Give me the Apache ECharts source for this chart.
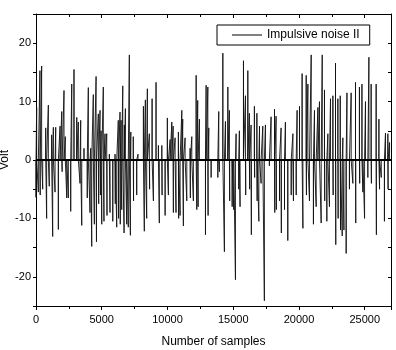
<!DOCTYPE html>
<html>
<head>
<meta charset="utf-8">
<script src="https://cdn.jsdelivr.net/npm/echarts@6/dist/echarts.min.js"></script>
<style>
  html, body { margin: 0; padding: 0; background: #fff; }
  #main { width: 396px; height: 350px; }
</style>
</head>
<body>
<div id="main"></div>
<script>
  // positive spikes: sample index / amplitude (Volt)
  var posX = [50, 300, 430, 740, 940, 1190, 1320, 1500, 1830, 1960, 2130, 2230, 2720, 2890, 3100, 3220, 3400, 3650, 3980, 4160,
    4360, 4570, 4740, 4870, 4950, 5120, 5250, 5380, 5580, 6010, 6260, 6390, 6470, 6600, 6720, 6800, 7100, 7210, 7400, 7760,
    8170, 8320, 8470, 8620, 8830, 9130, 9310, 9570, 9990, 10200, 10330, 10430, 10580, 10830, 11090, 11160, 11340, 11720, 11850, 12180,
    12300, 12430, 12940, 13070, 13140, 13900, 14210, 14410, 14590, 14710, 15220, 15470, 15780, 15930, 16110, 16230, 16360, 16610, 16800, 17000,
    17250, 17450, 17880, 18140, 18260, 18640, 18970, 19540, 19860, 20040, 20240, 20550, 20680, 20930, 21180, 21440, 21560, 21770, 21940, 22200,
    22400, 22580, 22780, 22960, 23140, 23340, 23650, 23970, 24300, 24600, 24790, 25060, 25320, 25490, 25870, 26080, 26580, 26760, 26890];
  var posY = [9.0, 15.3, 16.1, 5.5, 9.4, 4.3, 5.6, 5.6, 5.8, 8.3, 11.9, 4.0, 13.0, 15.5, 7.3, 6.5, 6.8, 2.0, 12.4, 2.0,
    11.2, 14.3, 7.9, 8.5, 5.0, 12.5, 4.5, 4.5, 1.0, 1.0, 6.8, 8.2, 6.8, 12.7, 6.0, 8.8, 18.0, 4.8, 4.0, 1.0,
    9.2, 10.3, 12.2, 4.5, 10.5, 13.3, 2.5, 2.5, 7.2, 3.5, 6.5, 5.8, 3.8, 4.8, 8.5, 7.0, 3.8, 2.0, 4.0, 14.5,
    10.2, 7.0, 12.8, 12.5, 5.5, 8.3, 18.3, 6.6, 12.5, 8.5, 4.5, 5.0, 17.0, 11.0, 15.3, 8.0, 6.0, 9.2, 8.0, 5.8,
    5.8, 6.0, 7.4, 8.7, 7.5, 5.5, 6.5, 4.5, 8.5, 9.2, 14.8, 14.5, 13.0, 18.0, 8.5, 9.0, 10.0, 18.0, 12.0, 4.5,
    10.5, 11.0, 16.6, 10.5, 11.0, 3.8, 11.5, 11.5, 13.3, 12.5, 13.0, 10.0, 17.6, 13.0, 13.0, 7.0, 4.6, 4.5, 3.0];

  // negative spikes
  var negX = [0, 180, 320, 510, 810, 1010, 1270, 1450, 1700, 1990, 2340, 2460, 2640, 3350, 3480, 3900, 4110, 4240, 4440, 4600,
    4770, 4900, 5000, 5170, 5400, 5630, 5840, 6030, 6140, 6280, 6410, 6520, 6700, 6900, 7020, 7180, 7420, 7660, 8240, 8420,
    8640, 8930, 9380, 9590, 9820, 10070, 10450, 10650, 10850, 10960, 11210, 11470, 11740, 11970, 12230, 12330, 12890, 13090, 13320, 13830,
    13950, 14330, 14730, 14920, 15040, 15170, 15420, 15520, 15950, 16250, 16380, 16630, 16820, 16950, 17120, 17370, 17750, 18160, 18280, 18520,
    18660, 18900, 19150, 19410, 19580, 19790, 20300, 20570, 20800, 21100, 21310, 21690, 21960, 22120, 22320, 22600, 22800, 22980, 23160, 23290,
    23420, 23590, 23840, 24100, 24320, 24620, 24860, 24990, 25240, 25510, 25890, 26130, 26260, 26500, 26780];
  var negY = [-6.4, -5.5, -6.0, -5.0, -10.0, -4.5, -13.1, -5.5, -11.9, -2.0, -6.5, -6.5, -8.8, -4.0, -11.2, -6.5, -9.0, -14.8, -11.0, -14.0,
    -7.5, -6.0, -11.0, -10.5, -9.5, -9.0, -10.5, -7.5, -11.5, -10.0, -11.0, -8.5, -12.5, -11.0, -11.5, -12.9, -7.0, -6.0, -12.2, -10.0,
    -5.0, -7.0, -10.8, -6.0, -9.5, -6.0, -9.0, -9.0, -10.0, -9.5, -11.3, -7.0, -6.5, -7.0, -8.5, -8.0, -12.8, -9.5, -3.0, -3.0,
    -2.0, -15.7, -7.0, -8.0, -8.5, -20.5, -5.0, -8.0, -6.0, -5.0, -12.8, -3.0, -7.0, -10.5, -4.0, -24.1, -1.0, -9.0, -8.5, -7.0,
    -12.5, -8.5, -13.8, -6.0, -7.0, -6.0, -11.7, -6.0, -7.0, -11.0, -8.0, -10.8, -7.0, -10.5, -8.0, -6.0, -14.5, -10.0, -12.0, -13.0,
    -12.0, -16.0, -5.0, -4.0, -10.8, -4.0, -5.5, -10.0, -3.0, -4.0, -12.8, -5.0, -3.0, -10.5, -5.0];

  var xTicks = [0, 5000, 10000, 15000, 20000, 25000];
  var yTicks = [-20, -10, 0, 10, 20];

  var spikes = [];
  posX.forEach(function (x, i) { spikes.push([x, posY[i]]); });
  negX.forEach(function (x, i) { spikes.push([x, negY[i]]); });
  spikes.sort(function (a, b) { return a[0] - b[0]; });

  var lineData = [];
  spikes.forEach(function (s) {
    lineData.push([s[0], 0], [s[0], s[1]], [s[0], 0]);
  });
  lineData.push([27000, 0]);

  var font = 'Liberation Sans, Arial, sans-serif';
  var myChart = echarts.init(document.getElementById('main'));

  var option = {
    animation: false,
    backgroundColor: '#fff',
    grid: { left: 36, right: 5, top: 14, bottom: 44, containLabel: false, outerBoundsMode: 'none' },
    legend: {
      left: 217, top: 25,
      padding: [4, 10, 4, 15],
      borderColor: '#000', borderWidth: 1, borderRadius: 0,
      icon: 'rect', itemWidth: 30, itemHeight: 1, itemGap: 5,
      textStyle: { color: '#000', fontSize: 12, fontFamily: font },
      data: ['Impulsive noise II']
    },
    xAxis: [{
      type: 'value', position: 'bottom', min: 0, max: 27000, interval: 5000,
      name: 'Number of samples', nameLocation: 'middle', nameGap: 30, nameMoveOverlap: false,
      nameTextStyle: { color: '#000', fontSize: 12, fontFamily: font },
      axisLine: { onZero: false, lineStyle: { color: '#000', width: 1 } },
      axisTick: { show: true, inside: false, length: 4, lineStyle: { color: '#000' } },
      minorTick: { show: true, splitNumber: 2, length: 3, lineStyle: { color: '#000' } },
      axisLabel: {
        color: '#000', fontSize: 11, fontFamily: font, margin: 8,
        formatter: function (v) { return xTicks.indexOf(v) >= 0 ? String(v) : ''; }
      },
      splitLine: { show: false }
    }, {
      type: 'value', position: 'top', min: 0, max: 27000, interval: 5000,
      axisLine: { onZero: false, lineStyle: { color: '#000', width: 1 } },
      axisTick: { show: true, inside: true, length: 4, lineStyle: { color: '#000' } },
      minorTick: { show: true, splitNumber: 2, length: 3, lineStyle: { color: '#000' } },
      axisLabel: { show: false },
      splitLine: { show: false }
    }],
    yAxis: [{
      type: 'value', position: 'left', min: -25, max: 25, interval: 5,
      name: 'Volt', nameLocation: 'middle', nameGap: 25, nameMoveOverlap: false,
      nameTextStyle: { color: '#000', fontSize: 12, fontFamily: font },
      axisLine: { show: true, onZero: false, lineStyle: { color: '#000', width: 1 } },
      axisTick: { show: true, inside: false, length: 3, lineStyle: { color: '#000' } },
      axisLabel: {
        color: '#000', fontSize: 11, fontFamily: font, margin: 5,
        formatter: function (v) { return yTicks.indexOf(v) >= 0 ? String(v) : ''; }
      },
      splitLine: { show: false }
    }, {
      type: 'value', position: 'right', min: -25, max: 25, interval: 5,
      axisLine: { show: true, onZero: false, lineStyle: { color: '#000', width: 1 } },
      axisTick: { show: true, inside: true, length: 3, lineStyle: { color: '#000' } },
      axisLabel: { show: false },
      splitLine: { show: false }
    }],
    series: [{
      name: 'Impulsive noise II',
      type: 'line',
      xAxisIndex: 0, yAxisIndex: 0,
      data: lineData,
      symbol: 'none',
      lineStyle: { color: '#111', width: 0.9 },
      itemStyle: { color: '#000' },
      markLine: {
        silent: true, symbol: 'none', label: { show: false },
        lineStyle: { color: '#000', width: 2, type: 'solid' },
        data: [{ yAxis: 0 }]
      }
    }]
  };
  myChart.setOption(option);
</script>
</body>
</html>
